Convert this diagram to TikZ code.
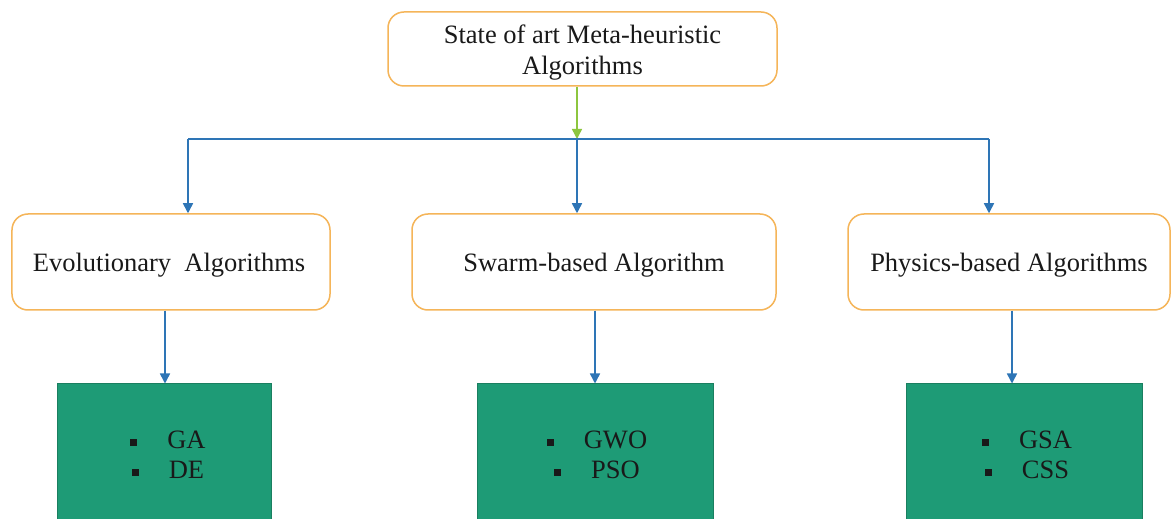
\documentclass[tikz,border=0pt]{standalone}
\usepackage{fontspec}
\setmainfont{Liberation Serif}
\usetikzlibrary{arrows.meta}
\definecolor{orangeb}{HTML}{F5B559}
\definecolor{blueline}{HTML}{2E75B6}
\definecolor{greenline}{HTML}{8DC63F}
\definecolor{tealfill}{HTML}{1E9B76}
\definecolor{tealdraw}{HTML}{1A7F60}
\tikzset{
  catbox/.style={draw=orangeb, line width=1.5bp, rounded corners=16bp, fill=white,
    minimum height=96bp, inner sep=0pt},
  cattext/.style={align=center, inner sep=0pt, text=black!90,
    font=\fontsize{26.5bp}{31bp}\selectfont},
  listbox/.style={draw=tealdraw, line width=1bp, fill=tealfill,
    minimum height=138bp, minimum width=213bp, inner sep=0pt},
  listtext/.style={align=center, font=\fontsize{26.5bp}{30bp}\selectfont, inner sep=0pt, text=black!90},
  bluearrow/.style={draw=blueline, line width=1.5bp, -{Triangle[width=10bp,length=10bp]}},
  greenarrow/.style={draw=greenline, line width=1.5bp, -{Triangle[width=10bp,length=10bp]}},
  blueline/.style={draw=blueline, line width=1.5bp}
}
\newcommand{\bul}{\rule[3bp]{7bp}{7bp}\hspace{30bp}}
\begin{document}
\begin{tikzpicture}[x=1bp,y=-1bp]
\clip (0,0) rectangle (1171,519);
\fill[white] (0,0) rectangle (1171,519);

% top node
\node[catbox, minimum width=389bp, minimum height=74bp] (top) at (582.5,49) {};
\node[cattext] (toptxt) at (582.5,53) {State of art Meta-heuristic\\Algorithms};

% category nodes
\node[catbox, minimum width=318bp] (evo) at (171,262) {};
\node[catbox, minimum width=364bp] (swarm) at (594,262) {};
\node[catbox, minimum width=322bp] (phys) at (1009,262) {};
\node[cattext] (evotxt) at (169,265) {Evolutionary\ \ Algorithms};
\node[cattext] (swarmtxt) at (594,265) {Swarm-based Algorithm};
\node[cattext] (phystxt) at (1009,265) {Physics-based Algorithms};

% list boxes
\node[listbox] (ga) at (164.5,453) {};
\node[listbox, minimum width=236bp] (gwo) at (595,453) {};
\node[listbox, minimum width=236bp] (gsa) at (1024.5,453) {};

\node[listtext] (gatxt) at (168,455) {\bul GA\\\bul DE};
\node[listtext] (gwotxt) at (597,455) {\bul GWO\\\bul PSO};
\node[listtext] (gsatxt) at (1027,455) {\bul GSA\\\bul CSS};

% connectors
\coordinate (bus) at (577,139);
\coordinate (busL) at (188,139);
\coordinate (busR) at (989,139);
\draw[greenarrow] (top.south -| bus) -- (bus);
\draw[blueline] (busL) -- (busR);
\draw[bluearrow] (busL) -- (evo.north -| busL);
\draw[bluearrow] (bus) -- (swarm.north -| bus);
\draw[bluearrow] (busR) -- (phys.north -| busR);

\coordinate (x1) at (165,0);
\coordinate (x2) at (595,0);
\coordinate (x3) at (1012,0);
\draw[bluearrow] (evo.south -| x1) -- (ga.north -| x1);
\draw[bluearrow] (swarm.south -| x2) -- (gwo.north -| x2);
\draw[bluearrow] (phys.south -| x3) -- (gsa.north -| x3);
\end{tikzpicture}
\end{document}
